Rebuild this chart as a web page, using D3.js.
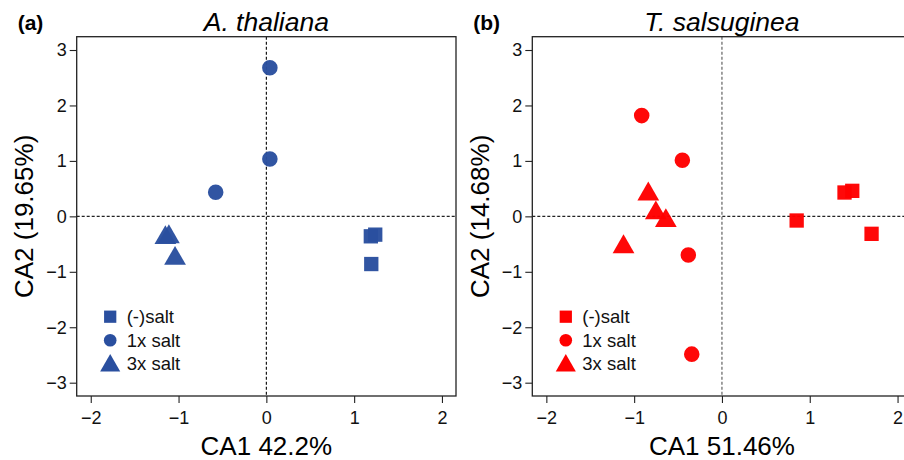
<!DOCTYPE html>
<html>
<head>
<meta charset="utf-8">
<script src="https://cdn.jsdelivr.net/npm/d3@7"></script>
<style>
  body { margin: 0; background: #fff; }
  text { font-family: "Liberation Sans", Arial, sans-serif; }
</style>
</head>
<body>
<div id="chart"></div>
<script>
var svgWidth = 904;
var svgHeight = 460;

// legend labels
var groups = ["(-)salt", "1x salt", "3x salt"];
var xTicks = [-2, -1, 0, 1, 2];
var yTicks = [-3, -2, -1, 0, 1, 2, 3];

// A. thaliana  [CA1, CA2]
var athNoSalt = [[1.19, -0.36], [1.24, -0.33], [1.195, -0.86]];
var ath1xSalt = [[0.04, 2.68], [0.04, 1.035], [-0.577, 0.434]];
var ath3xSalt = [[-1.15, -0.385], [-1.11, -0.37], [-1.04, -0.76]];

// T. salsuginea  [CA1, CA2]
var tsaNoSalt = [[0.851, -0.075], [1.396, 0.43], [1.484, 0.46], [1.704, -0.315]];
var tsa1xSalt = [[-0.914, 1.817], [-0.451, 1.012], [-0.383, -0.698], [-0.344, -2.485]];
var tsa3xSalt = [[-0.839, 0.40], [-0.753, 0.06], [-0.639, -0.08], [-1.121, -0.55]];

var panels = [
  { letter: "(a)", title: "A. thaliana", xLabel: "CA1 42.2%", yLabel: "CA2 (19.65%)",
    color: "#2a4f9f", zeroColor: "#000", left: 76.7,
    sets: [athNoSalt, ath1xSalt, ath3xSalt] },
  { letter: "(b)", title: "T. salsuginea", xLabel: "CA1 51.46%", yLabel: "CA2 (14.68%)",
    color: "#ff0000", zeroColor: "#555", left: 532.3,
    sets: [tsaNoSalt, tsa1xSalt, tsa3xSalt] }
];

var plotTop = 36.7, plotBottom = 396, plotW = 379.3;
var shapes = [d3.symbolSquare, d3.symbolCircle, d3.symbolTriangle];
var sizes = [205, 190, 205];
var legendSizes = [150, 125, 175];

var svg = d3.select("#chart")
  .append("svg")
  .attr("width", svgWidth)
  .attr("height", svgHeight);

panels.forEach(function(p) {
  var x = d3.scaleLinear().domain([-2.16, 2.16]).range([p.left, p.left + plotW]);
  var y = d3.scaleLinear().domain([-3.24, 3.24]).range([plotBottom, plotTop]);
  var g = svg.append("g");

  // zero lines
  g.append("line")
    .attr("x1", x(0)).attr("x2", x(0))
    .attr("y1", plotTop).attr("y2", plotBottom)
    .attr("stroke", p.zeroColor).attr("stroke-width", 1.1)
    .attr("stroke-dasharray", "3,2");
  g.append("line")
    .attr("x1", p.left).attr("x2", p.left + plotW)
    .attr("y1", y(0)).attr("y2", y(0))
    .attr("stroke", "#222").attr("stroke-width", 1.1)
    .attr("stroke-dasharray", "3,2");

  // axes
  var xAxis = d3.axisBottom(x).tickValues(xTicks).tickSize(7).tickPadding(8)
    .tickFormat(d3.format("d"));
  var yAxis = d3.axisLeft(y).tickValues(yTicks).tickSize(7).tickPadding(3)
    .tickFormat(d3.format("d"));

  var gx = g.append("g").attr("transform", "translate(0," + plotBottom + ")").call(xAxis);
  var gy = g.append("g").attr("transform", "translate(" + p.left + ",0)").call(yAxis);
  [gx, gy].forEach(function(a) {
    a.select(".domain").remove();
    a.selectAll("line").attr("stroke", "#222").attr("stroke-width", 1.1);
    a.selectAll("text").attr("fill", "#111").style("font-size", "18px")
      .style("font-family", "'Liberation Sans', Arial, sans-serif");
  });

  // box
  g.append("rect")
    .attr("x", p.left).attr("y", plotTop)
    .attr("width", plotW).attr("height", plotBottom - plotTop)
    .attr("fill", "none").attr("stroke", "#222").attr("stroke-width", 1.3);

  // points
  p.sets.forEach(function(set, i) {
    g.selectAll(null)
      .data(set)
      .enter()
      .append("path")
      .attr("d", d3.symbol().type(shapes[i]).size(sizes[i]))
      .attr("transform", d => "translate(" + x(d[0]) + "," + y(d[1]) + ")")
      .attr("fill", p.color)
      .attr("opacity", 0.97);
  });

  // legend
  var lg = g.append("g").attr("transform", "translate(" + (p.left + 33.5) + "," + (plotTop + 280) + ")");
  groups.forEach(function(name, i) {
    lg.append("path")
      .attr("d", d3.symbol().type(shapes[i]).size(legendSizes[i]))
      .attr("transform", "translate(0," + (i * 23.5 + (i == 2 ? 2 : 0)) + ")")
      .attr("fill", p.color);
    lg.append("text")
      .attr("x", 16.5).attr("y", i * 23.5 + 6.5)
      .style("font-size", "18.5px")
      .attr("fill", "#111")
      .text(name);
  });

  // titles and labels
  var cx = p.left + plotW / 2;
  g.append("text")
    .attr("x", cx).attr("y", 30.5)
    .attr("text-anchor", "middle")
    .style("font-size", "26.5px").style("font-style", "italic")
    .text(p.title);
  g.append("text")
    .attr("x", p.left - 59).attr("y", 30)
    .style("font-size", "21px").style("font-weight", "bold")
    .text(p.letter);
  g.append("text")
    .attr("x", cx).attr("y", 455)
    .attr("text-anchor", "middle")
    .style("font-size", "26px")
    .text(p.xLabel);
  g.append("text")
    .attr("transform", "translate(" + (p.left - 43.4) + "," + (plotTop + plotBottom) / 2 + ") rotate(-90)")
    .attr("text-anchor", "middle")
    .style("font-size", "26px")
    .text(p.yLabel);
});
</script>
</body>
</html>
